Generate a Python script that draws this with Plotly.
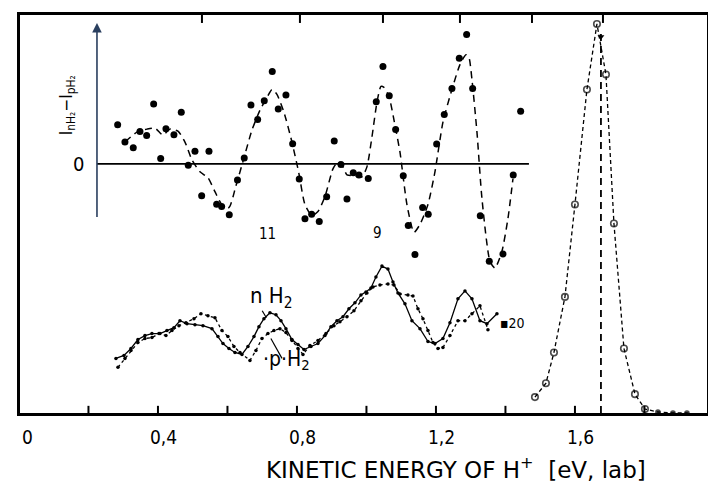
import plotly.graph_objects as go

# ---------------- data ----------------
# difference I(nH2) - I(pH2), inset (arbitrary units, zero = inset baseline)
diff_x = [0.2840, 0.3050, 0.3289, 0.3482, 0.3675, 0.3876, 0.4078, 0.4230, 0.4460, 0.4671,
          0.4872, 0.5065, 0.5258, 0.5468, 0.5689, 0.5833, 0.6052, 0.6288, 0.6483, 0.6676,
          0.6869, 0.7059, 0.7289, 0.7462, 0.7683, 0.7876, 0.8066, 0.8230, 0.8423, 0.8642,
          0.8855, 0.9073, 0.9266, 0.9439, 0.9620, 0.9784, 1.0052, 1.0282, 1.0475, 1.0656,
          1.0840, 1.1059, 1.1203, 1.1396, 1.1617, 1.1778, 1.2020, 1.2239, 1.2460, 1.2671,
          1.2883, 1.3056, 1.3275, 1.3534, 1.3928, 1.4224, 1.4437]
diff_y = [3.93, 2.2, 1.63, 3.27, 2.87, 6.03, 0.53, 3.53, 2.93, 5.2,
          -0.13, 1.27, -3.2, 1.27, -4.07, -4.3, -5.13, -1.63, 0.6, 5.93,
          4.47, 6.37, 9.3, 5.53, 6.93, 2.03, -1.53, -5.53, -5.07, -5.8,
          -3.3, 2.3, -0.07, -3.53, -0.9, -1.13, -1.47, 6.27, 9.8, 6.87,
          3.47, -1.2, -6.2, -9.13, -4.4, -5.07, 2.0, 4.97, 7.6, 10.63,
          13.03, 7.6, -5.23, -9.8, -9.07, -1.13, 5.3]

# dashed guide curve through the difference data
fit_x = [0.305, 0.3396, 0.3683, 0.3914, 0.4144, 0.4345, 0.4576, 0.4777, 0.4978, 0.5209,
         0.5439, 0.5640, 0.5842, 0.6043, 0.6245, 0.6475, 0.6705, 0.6935, 0.7137, 0.7281,
         0.7424, 0.7626, 0.7856, 0.8058, 0.8230, 0.8432, 0.8604, 0.8806, 0.9036, 0.9180,
         0.9295, 0.9439, 0.9669, 0.9871, 1.0014, 1.0158, 1.0302, 1.0417, 1.0504, 1.0647,
         1.0820, 1.0964, 1.1165, 1.1367, 1.1540, 1.1770, 1.1971, 1.2201, 1.2460, 1.2691,
         1.2863, 1.2950, 1.3036, 1.3180, 1.3324, 1.3554, 1.3698, 1.3899, 1.4072, 1.4216]
fit_y = [2.2, 3.2, 3.5, 3.6, 2.9, 3.5, 3.3, 2.2, 0.4, -0.8,
         -1.4, -2.8, -4.1, -4.4, -2.2, 0.6, 3.4, 5.4, 6.7, 7.5,
         7.0, 5.2, 2.2, -1.0, -4.1, -5.2, -4.8, -3.3, -0.5, 0.2,
         -0.1, -1.1, -1.2, -1.3, -0.3, 2.7, 6.2, 7.8, 7.7, 6.8,
         3.9, 1.2, -4.1, -6.9, -6.1, -4.1, -0.8, 4.2, 7.5, 10.0,
         11.0, 10.7, 8.5, 3.2, -3.5, -9.8, -10.5, -8.8, -5.5, -1.5]

# nH2 spectrum (x20), solid line
nh2_x = [0.2791, 0.3022, 0.3223, 0.3424, 0.3626, 0.3827, 0.4058, 0.4259, 0.4460, 0.4633,
         0.4835, 0.5065, 0.5295, 0.5554, 0.5727, 0.5871, 0.6043, 0.6216, 0.6417, 0.6590,
         0.6763, 0.6906, 0.7050, 0.7223, 0.7396, 0.7540, 0.7683, 0.7856, 0.8029, 0.8201,
         0.8403, 0.8604, 0.8806, 0.8978, 0.9151, 0.9324, 0.9496, 0.9669, 0.9842, 0.9986,
         1.0129, 1.0273, 1.0446, 1.0619, 1.0763, 1.0906, 1.1108, 1.1309, 1.1540, 1.1770,
         1.1971, 1.2201, 1.2403, 1.2633, 1.2835, 1.3036, 1.3266, 1.3468, 1.3755]
nh2_y = [5.5, 5.8, 6.5, 7.4, 7.8, 8.0, 8.0, 8.3, 8.6, 9.3,
         9.0, 8.9, 8.8, 8.5, 7.7, 7.0, 6.5, 6.1, 5.9, 6.7,
         7.7, 8.7, 9.5, 10.1, 9.9, 9.3, 8.5, 7.4, 6.9, 6.4,
         6.7, 7.0, 7.8, 8.7, 9.3, 9.7, 10.5, 11.1, 11.9, 12.2,
         12.6, 13.7, 14.8, 14.5, 13.2, 12.1, 11.0, 9.3, 8.5, 7.2,
         7.0, 7.5, 9.1, 11.5, 12.3, 11.5, 9.3, 9.0, 10.0]

# pH2 spectrum (x20), dotted line
ph2_x = [0.2849, 0.3050, 0.3223, 0.3424, 0.3626, 0.3827, 0.4029, 0.4230, 0.4403, 0.4604,
         0.4806, 0.5036, 0.5237, 0.5439, 0.5640, 0.5842, 0.6014, 0.6187, 0.6360, 0.6647,
         0.6820, 0.6993, 0.7165, 0.7338, 0.7511, 0.7683, 0.7856, 0.8029, 0.8173, 0.8374,
         0.8604, 0.8835, 0.9065, 0.9237, 0.9439, 0.9640, 0.9842, 1.0014, 1.0187, 1.0388,
         1.0619, 1.0791, 1.0964, 1.1194, 1.1338, 1.1482, 1.1626, 1.1770, 1.1914, 1.2058,
         1.2201, 1.2403, 1.2633, 1.2835, 1.3036, 1.3266, 1.3496]
ph2_y = [4.6, 5.5, 6.3, 7.1, 7.5, 7.6, 8.0, 7.8, 8.3, 8.8,
         9.1, 9.5, 10.0, 9.8, 9.6, 8.3, 7.7, 6.7, 6.1, 5.3,
         6.3, 7.5, 8.0, 8.3, 8.5, 8.1, 7.3, 6.5, 5.9, 6.8,
         7.3, 8.0, 8.8, 9.2, 9.7, 10.3, 11.3, 12.1, 12.7, 12.9,
         13.0, 12.9, 12.0, 11.9, 11.8, 10.5, 9.5, 8.3, 7.1, 6.5,
         6.6, 7.8, 9.3, 9.3, 10.0, 10.8, 8.4]

# elastic peak (open circles) and tail (small dots)
peak_x = [1.4849, 1.5165, 1.5396, 1.5712, 1.6000, 1.6345, 1.6633, 1.6892, 1.7122, 1.7410,
          1.7727, 1.8014, 1.8388, 1.8820, 1.9223, 1.9568]
peak_y = [1.6, 3.0, 6.1, 11.7, 21.0, 32.6, 39.2, 34.1, 19.1, 6.5,
          1.9, 0.4, 0.1, 0.0, 0.0, -0.3]
peak_open = [True] * 12 + [False] * 4

marker_energy = 1.6748          # dashed vertical line
marker_top = 38.3
top_ticks = [0.5266, 0.8086, 1.0475, 1.2691, 1.4763, 1.6806]
bottom_ticks = [0.2, 0.4, 0.6, 0.8, 1.0, 1.2, 1.4, 1.6, 1.8]
tick_labels = ["0,4", "0,8", "1,2", "1,6"]
tick_label_vals = [0.4, 0.8, 1.2, 1.6]

inset_axis_x = 0.2245
inset_axis_bottom = -5.5
inset_axis_top = 14.2
inset_zero_end = 1.4676

X_RANGE = [0.003, 1.98]
Y_RANGE = [0, 40.1]
Y2_RANGE = [-25.1, 15.0]

NUMFONT = "DejaVu Sans Condensed, DejaVu Sans"
TXTFONT = "DejaVu Sans"

fig = go.Figure()

# inset zero line
fig.add_trace(go.Scatter(x=[inset_axis_x, inset_zero_end], y=[0, 0], yaxis="y2",
                         mode="lines", line=dict(color="black", width=1.6),
                         hoverinfo="skip", showlegend=False))
# dashed guide curve
fig.add_trace(go.Scatter(x=fit_x, y=fit_y, yaxis="y2", mode="lines",
                         line=dict(color="black", width=1.5, dash="7px,5px", shape="spline",
                                   smoothing=0.6),
                         showlegend=False))
# difference points
fig.add_trace(go.Scatter(x=diff_x, y=diff_y, yaxis="y2", mode="markers",
                         marker=dict(color="black", size=7), showlegend=False))

# pH2 dotted
fig.add_trace(go.Scatter(x=ph2_x, y=ph2_y, mode="lines+markers",
                         line=dict(color="black", width=1.3, dash="dot"),
                         marker=dict(color="black", size=3.5), showlegend=False))
# nH2 solid
fig.add_trace(go.Scatter(x=nh2_x, y=nh2_y, mode="lines+markers",
                         line=dict(color="black", width=1.3),
                         marker=dict(color="black", size=3.5), showlegend=False))

# elastic peak
fig.add_trace(go.Scatter(x=peak_x, y=peak_y, mode="lines+markers",
                         line=dict(color="black", width=1.3, dash="4px,3px"),
                         marker=dict(color="black",
                                     symbol=["circle-open" if o else "circle" for o in peak_open],
                                     size=[6.5 if o else 4 for o in peak_open],
                                     line=dict(color="black", width=1.6)),
                         showlegend=False))
# vertical dashed marker line with arrow head
fig.add_trace(go.Scatter(x=[marker_energy, marker_energy], y=[0, marker_top], mode="lines",
                         line=dict(color="black", width=1.8, dash="7px,5px"), showlegend=False))
fig.add_trace(go.Scatter(x=[marker_energy], y=[marker_top - 0.4], mode="markers",
                         marker=dict(symbol="triangle-down", size=6, color="black"),
                         showlegend=False))

# leader lines for the labels
fig.add_trace(go.Scatter(x=[0.700, 0.712], y=[10.3, 9.6], mode="lines",
                         line=dict(color="black", width=1.2), showlegend=False))
fig.add_trace(go.Scatter(x=[0.725, 0.757], y=[7.5, 5.5], mode="lines",
                         line=dict(color="black", width=1.2), showlegend=False))

annotations = [
    # inset vertical arrow axis
    dict(x=inset_axis_x, y=inset_axis_top, xref="x", yref="y2",
         ax=inset_axis_x, ay=inset_axis_bottom, axref="x", ayref="y2",
         showarrow=True, arrowhead=2, arrowsize=1.2, arrowwidth=1.6, text=""),
    dict(x=0.170, y=0, xref="x", yref="y2", text="0", showarrow=False,
         font=dict(family=NUMFONT, size=20, color="black")),
    dict(x=0.138, y=5.9, xref="x", yref="y2", text="I<sub>nH₂</sub>−I<sub>pH₂</sub>",
         textangle=-90, showarrow=False, font=dict(family=NUMFONT, size=17, color="black")),
    dict(x=0.7165, y=-7.1, xref="x", yref="y2", text="11", showarrow=False,
         font=dict(family=NUMFONT, size=15, color="black")),
    dict(x=1.033, y=-7.0, xref="x", yref="y2", text="9", showarrow=False,
         font=dict(family=NUMFONT, size=15, color="black")),
    dict(x=0.728, y=11.6, xref="x", yref="y", text="n H<sub>2</sub>", showarrow=False,
         font=dict(family=NUMFONT, size=22, color="black")),
    dict(x=0.770, y=5.3, xref="x", yref="y", text="·p·H<sub>2</sub>", showarrow=False,
         font=dict(family=NUMFONT, size=21, color="black")),
    dict(x=1.419, y=9.1, xref="x", yref="y", text="▪20", showarrow=False,
         font=dict(family=NUMFONT, size=14, color="black")),
    dict(x=0.634, y=0, xref="paper", yref="paper", yshift=-55, xanchor="center",
         yanchor="middle",
         text="KINETIC ENERGY OF H<sup>+</sup>  [eV, lab]", showarrow=False,
         font=dict(family=TXTFONT, size=23, color="black")),
    # "0" at the left end of the energy axis
    dict(x=0.0102, y=0, xref="paper", yref="paper", yshift=-24, xanchor="center",
         yanchor="middle", text="0", showarrow=False,
         font=dict(family=NUMFONT, size=19, color="black")),
]
for v, t in zip(tick_label_vals, tick_labels):
    annotations.append(dict(x=v, y=0, xref="x", yref="paper", yshift=-24, xshift=6,
                            xanchor="center", yanchor="middle", text=t, showarrow=False,
                            font=dict(family=NUMFONT, size=19, color="black")))

# tick marks drawn as short lines on the frame (inside)
shapes = []
for v in bottom_ticks:
    shapes.append(dict(type="line", xref="x", yref="paper", x0=v, x1=v, y0=0, y1=0.018,
                       line=dict(color="black", width=2)))
for v in top_ticks:
    shapes.append(dict(type="line", xref="x", yref="paper", x0=v, x1=v, y0=1, y1=0.98,
                       line=dict(color="black", width=2)))

# page body adds an 8px margin; shrink canvas so the plot lands where the reference has it
fig.update_layout(
    width=708, height=482,
    margin=dict(l=12, r=9, t=4, b=77),
    paper_bgcolor="white", plot_bgcolor="white",
    showlegend=False,
    xaxis=dict(range=X_RANGE, showgrid=False, zeroline=False, showline=True, mirror=True,
               linecolor="black", linewidth=2.5, ticks="", showticklabels=False),
    yaxis=dict(range=Y_RANGE, showgrid=False, zeroline=False, showline=True, mirror=True,
               linecolor="black", linewidth=2.5, ticks="", showticklabels=False),
    yaxis2=dict(range=Y2_RANGE, overlaying="y", visible=False, showgrid=False, zeroline=False),
    annotations=annotations,
    shapes=shapes,
)

fig.write_html("out.html")
